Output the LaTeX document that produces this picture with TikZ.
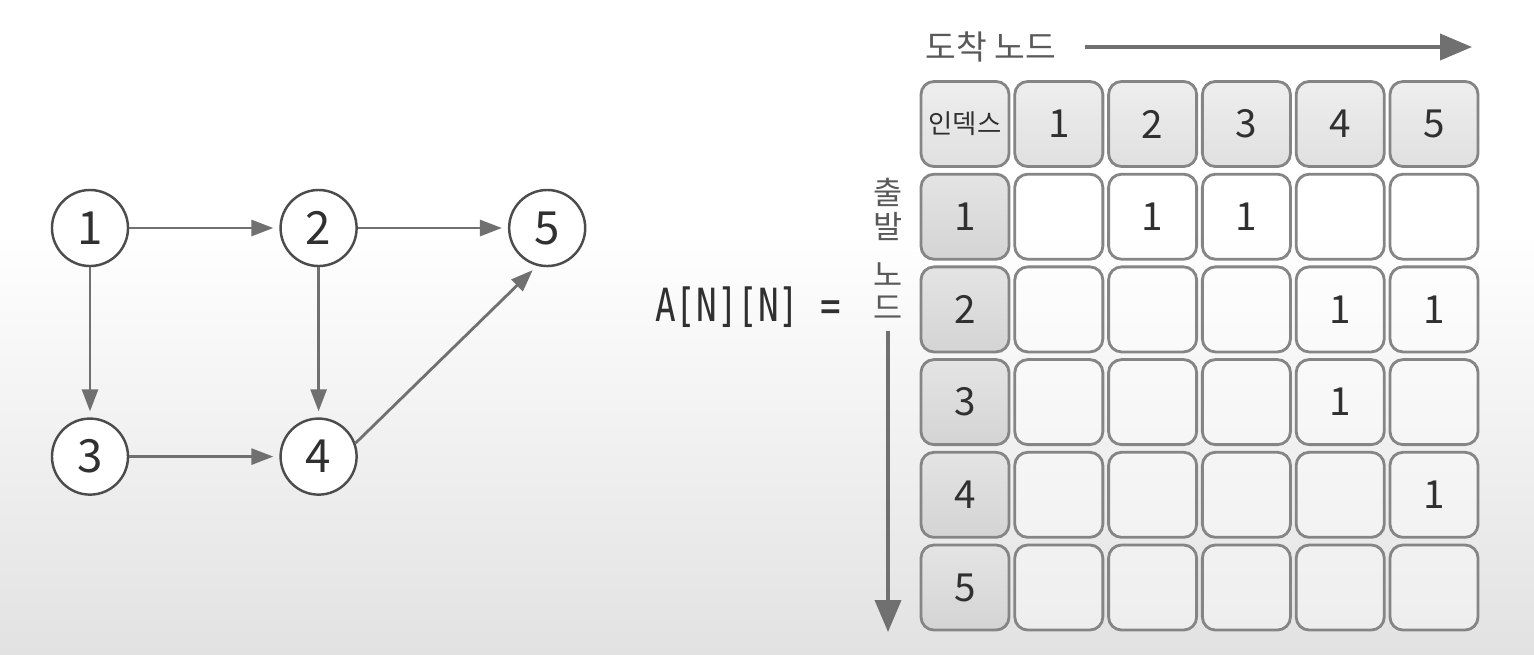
\documentclass[tikz,border=0pt]{standalone}
\usepackage{fontspec}
\setmainfont{Noto Sans CJK KR}
\setmonofont{DejaVu Sans Mono}
\usepackage{graphicx}
\usepackage{xcolor}
\usetikzlibrary{arrows.meta,positioning}
\definecolor{linegray}{HTML}{707070}
\definecolor{cellline}{HTML}{858585}
\definecolor{bggray}{HTML}{E2E2E2}
\definecolor{hdtop}{HTML}{EEEEEE}
\definecolor{hdbot}{HTML}{E0E0E0}
\definecolor{idxtop}{HTML}{E4E4E4}
\definecolor{idxbot}{HTML}{D4D4D4}
\definecolor{inkgray}{HTML}{303030}

\begin{document}
\begin{tikzpicture}[
  x=0.01cm, y=-0.01cm,
  node distance=15mm,
  every node/.style={text=inkgray},
  vertex/.style={circle, draw=black!70, line width=0.7pt, fill=white, minimum size=7.6mm, inner sep=0pt, font=\fontsize{13}{13}\selectfont},
  edge/.style={-{Triangle[length=2.2mm, width=1.6mm]}, line width=0.8pt, draw=linegray, fill=linegray, shorten >=0.6mm},
  axis/.style={-{Triangle[length=3.2mm, width=2.6mm]}, line width=1.1pt, draw=linegray, fill=linegray},
  cell/.style={rectangle, rounded corners=1.3mm, draw=cellline, line width=0.8pt, minimum width=8.8mm, minimum height=8.5mm, inner sep=0pt, font=\fontsize{11}{11}\selectfont},
  headcell/.style={cell, top color=hdtop, bottom color=hdbot},
  idxcell/.style={cell, top color=idxtop, bottom color=idxbot},
  datacell/.style={cell, fill=white, fill opacity=0.4, text opacity=1}
]
\useasboundingbox (0,0) rectangle (1534,654);
% background
\fill[white] (0,0) rectangle (1534,654);
\shade[top color=white, bottom color=bggray] (0,230) rectangle (1534,654);

% graph
\node[vertex] (n1) at (90,228) {1};
\node[vertex, right=of n1] (n2) {2};
\node[vertex, right=of n2] (n5) {5};
\node[vertex, below=of n1] (n3) {3};
\node[vertex, right=of n3] (n4) {4};
\draw[edge] (n1) -- (n2);
\draw[edge] (n2) -- (n5);
\draw[edge] (n1) -- (n3);
\draw[edge] (n2) -- (n4);
\draw[edge] (n3) -- (n4);
\draw[edge] (n4.20) -- (n5.255);

% adjacency matrix
\node (lhs) at (748,307) {\scalebox{0.75}[1]{\ttfamily\fontsize{13}{13}\selectfont A[N][N] =}};
\node[font=\fontsize{9.5}{9.5}\selectfont, inner sep=0pt, text=black!65] (dst) at (991,47) {도착 노드};
\coordinate (dstend) at (1472,47);
\draw[axis, shorten <=2.8mm] (dst.east) -- (dstend);
\node[font=\fontsize{9}{9.6}\selectfont, align=center, inner sep=0pt, text=black!65] (src) at (888,249) {출\\발\\[4pt]노\\드};
\coordinate (srcend) at (888,632);
\draw[axis, shorten <=1mm] (src.south) -- (srcend);

\node[headcell, font=\fontsize{7.5}{7.5}\selectfont] (idx) at (965,124) {인덱스};
\foreach \c in {1,...,5}
  \node[headcell] (h\c) at ({965+93.8*\c},124) {\c};
\foreach \r in {1,...,5}
  \node[idxcell] (r\r) at (965,{124+92.7*\r}) {\r};
\foreach \r/\row in {1/{0,1,1,0,0}, 2/{0,0,0,1,1}, 3/{0,0,0,1,0}, 4/{0,0,0,0,1}, 5/{0,0,0,0,0}}
  \foreach \v [count=\c] in \row
    \node[datacell] (c\r\c) at ({965+93.8*\c},{124+92.7*\r}) {\ifnum\v=1 1\fi};
\end{tikzpicture}
\end{document}
